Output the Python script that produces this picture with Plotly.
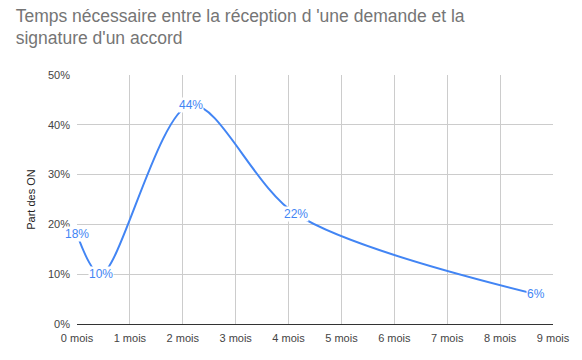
import plotly.graph_objects as go

months = [0, 0.45, 2.15, 4.15, 8.67]
share = [0.18, 0.10, 0.44, 0.22, 0.06]
labels = ["18%", "10%", "44%", "22%", "6%"]
xticks = list(range(10))
xticklabels = [f"{m} mois" for m in xticks]
yticks = [0, 0.1, 0.2, 0.3, 0.4, 0.5]

fig = go.Figure()
fig.add_trace(go.Scatter(
    x=months, y=share, mode="lines",
    line=dict(color="#4285F4", width=2, shape="spline", smoothing=0.9),
    hoverinfo="skip", showlegend=False,
))
for x, y, t in zip(months, share, labels):
    fig.add_annotation(x=x, y=y, text=t, showarrow=False, bgcolor="white",
                       borderpad=0, font=dict(family="Liberation Sans, Arial", size=12, color="#4285F4"))

fig.update_layout(
    width=582, height=360,
    margin=dict(l=77, r=19, t=75, b=36),
    paper_bgcolor="white", plot_bgcolor="white",
    title=dict(text="Temps nécessaire entre la réception d 'une demande et la<br>signature d'un accord",
               x=0.027, xanchor="left", y=0.94, yanchor="top",
               font=dict(family="Liberation Sans, Arial", size=17.5, color="#757575")),
    font=dict(family="Liberation Sans, Arial", size=11, color="#444"),
)
fig.update_xaxes(range=[0, 9], tickvals=xticks, ticktext=xticklabels,
                 showgrid=True, gridcolor="#cccccc", gridwidth=1,
                 showline=False, zeroline=False, ticks="", ticklabelstandoff=6,
                 tickfont=dict(size=11, color="#444"))
fig.update_yaxes(range=[0, 0.5], tickvals=yticks, tickformat=".0%",
                 showgrid=True, gridcolor="#cccccc", zeroline=True, zerolinecolor="#333", zerolinewidth=1,
                 ticks="", ticklabelstandoff=6, tickfont=dict(size=11, color="#444"),
                 title=dict(text="Part des ON", font=dict(size=11, color="#222"), standoff=10))
fig.write_html("out.html")
